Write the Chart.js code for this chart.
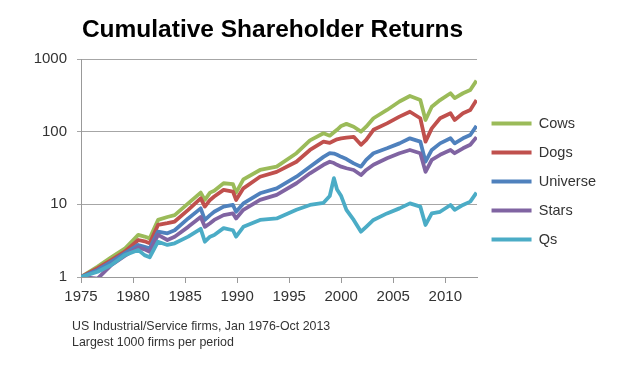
<!DOCTYPE html>
<html>
<head>
<meta charset="utf-8">
<script src="https://cdn.jsdelivr.net/npm/chart.js@4"></script>
<style>
  html, body { margin: 0; padding: 0; background: #fff; }
  #wrap { width: 635px; height: 369px; }
</style>
</head>
<body>
<div id="wrap"><canvas id="lineChart"></canvas></div>
<script>
// years on the x axis (decimal years)
const years = [1975, 1976.6, 1977.9, 1979.2, 1980.5, 1981.1, 1981.6, 1982.4, 1983.3, 1984.0,
  1985.3, 1986.5, 1986.9, 1987.4, 1987.8, 1988.7, 1989.6, 1989.9, 1990.6, 1992.2,
  1993.8, 1995.7, 1997.0, 1998.3, 1998.9, 1999.3, 1999.6, 2000.0, 2000.5, 2001.2,
  2001.9, 2002.4, 2003.1, 2004.4, 2005.6, 2006.6, 2007.6, 2008.1, 2008.7, 2009.5,
  2010.5, 2010.9, 2011.7, 2012.4, 2013.0];

const cows = [1.0, 1.39, 1.87, 2.45, 3.79, 3.6, 3.4, 6.1, 6.7, 7.1,
  10.3, 14.5, 11.5, 14.5, 15.4, 19.5, 19, 14.5, 22, 29.7,
  33, 50.5, 76, 95, 88, 98, 106, 120, 128, 117,
  100, 117, 153, 199, 260, 310, 272, 145, 220, 272,
  338, 290, 338, 375, 505];

const dogs = [1.0, 1.32, 1.71, 2.23, 3.23, 3.1, 2.91, 5.2, 5.5, 5.8,
  8.4, 12.1, 9.3, 11.5, 12.8, 15.8, 15, 11.5, 16.6, 24,
  28, 38.6, 56, 73, 70, 75, 78.5, 81, 83, 85,
  66, 77, 106, 130, 161, 188, 153, 73, 111, 153,
  179, 145, 179, 199, 272];

const universe = [1.0, 1.25, 1.62, 2.12, 2.76, 2.6, 2.48, 4.2, 4.0, 4.4,
  6.4, 8.8, 6.1, 7.1, 7.9, 9.3, 9.8, 7.9, 10.3, 14.2,
  16.6, 24, 33, 45, 50.5, 50, 48, 45, 42, 36.6,
  33, 41, 50.5, 59, 69, 81, 73, 38.6, 56, 69,
  81, 69, 81, 90, 120];

const stars = [1.0, 0.95, 1.46, 1.95, 2.56, 2.4, 2.23, 3.79, 3.23, 3.59,
  4.9, 6.7, 4.9, 5.5, 6.1, 7.1, 7.5, 6.4, 8.4, 11.5,
  13.5, 19.5, 26.7, 35, 38.6, 37, 35, 33, 31.4, 29.7,
  25.3, 29.7, 35, 43, 50.5, 56, 50.5, 28, 41, 48,
  56, 50.5, 59, 66, 84];

const qs = [1.0, 1.18, 1.46, 2.0, 2.35, 2.0, 1.87, 3.06, 2.76, 2.91,
  3.59, 4.6, 3.06, 3.59, 3.79, 4.7, 4.4, 3.59, 4.9, 6.1,
  6.4, 8.4, 9.8, 10.5, 13, 22.9, 16, 13, 8.4, 6.1,
  4.2, 4.9, 6.1, 7.5, 8.8, 10.3, 9.3, 5.2, 7.5, 7.9,
  9.8, 8.4, 9.8, 10.9, 14.5];

const yTicks = [1, 10, 100, 1000];
const xTicks = [1975, 1980, 1985, 1990, 1995, 2000, 2005, 2010];

const titleText = 'Cumulative Shareholder Returns';
const notes = ['US Industrial/Service firms, Jan 1976-Oct 2013', 'Largest 1000 firms per period'];

const toPoints = vals => vals.map((v, i) => ({x: years[i], y: v}));

// qs first so it is drawn on top, legend reversed
const series = [
  {label: 'Qs', values: qs, color: '#4bacc6'},
  {label: 'Stars', values: stars, color: '#8064a2'},
  {label: 'Universe', values: universe, color: '#4f81bd'},
  {label: 'Dogs', values: dogs, color: '#c0504d'},
  {label: 'Cows', values: cows, color: '#9bbb59'}
];

// title and footnote text
const textPlugin = {
  id: 'texts',
  afterDraw(chart) {
    const ctx = chart.ctx;
    ctx.save();
    ctx.fillStyle = '#000';
    ctx.font = 'bold 24.5px "Liberation Sans", Arial, sans-serif';
    ctx.textAlign = 'center';
    ctx.textBaseline = 'middle';
    ctx.fillText(titleText, 272.5, 30);
    ctx.fillStyle = '#333';
    ctx.font = '12.4px "Liberation Sans", Arial, sans-serif';
    ctx.textAlign = 'left';
    ctx.fillText(notes[0], 72, 327);
    ctx.fillText(notes[1], 72, 342.5);
    ctx.restore();
  }
};

new Chart(document.getElementById('lineChart'), {
  type: 'line',
  data: {
    datasets: series.map(s => ({
      label: s.label,
      data: toPoints(s.values),
      borderColor: s.color,
      backgroundColor: s.color,
      borderWidth: 3.8,
      pointRadius: 0,
      tension: 0,
      borderJoinStyle: 'round',
      borderCapStyle: 'butt'
    }))
  },
  options: {
    responsive: true,
    maintainAspectRatio: false,
    animation: false,
    layout: { padding: { left: 0, right: 29, top: 59, bottom: 65 } },
    scales: {
      x: {
        type: 'linear',
        min: 1975,
        max: 2013.05,
        afterBuildTicks: scale => { scale.ticks = xTicks.map(v => ({value: v})); },
        afterFit: scale => { scale.height = 27; },
        grid: { drawOnChartArea: false, drawTicks: true, tickLength: 6, color: '#999' },
        border: { color: '#999' },
        ticks: {
          padding: 5,
          color: '#333',
          font: { family: '"Liberation Sans", Arial, sans-serif', size: 15 },
          maxRotation: 0,
          callback: v => String(v)
        }
      },
      y: {
        type: 'logarithmic',
        min: 1,
        max: 1000,
        afterBuildTicks: scale => { scale.ticks = yTicks.map(v => ({value: v})); },
        afterFit: scale => { scale.width = 81; },
        grid: { color: '#a6a6a6', tickLength: 4 },
        border: { color: '#999' },
        ticks: {
          padding: 10,
          color: '#333',
          font: { family: '"Liberation Sans", Arial, sans-serif', size: 15 },
          callback: v => String(v)
        }
      }
    },
    plugins: {
      title: { display: false },
      tooltip: { enabled: false },
      legend: {
        position: 'right',
        reverse: true,
        labels: {
          usePointStyle: true,
          pointStyle: 'line',
          pointStyleWidth: 40,
          padding: 14.5,
          color: '#333',
          font: { family: '"Liberation Sans", Arial, sans-serif', size: 14.5 }
        }
      }
    }
  },
  plugins: [textPlugin]
});
</script>
</body>
</html>
